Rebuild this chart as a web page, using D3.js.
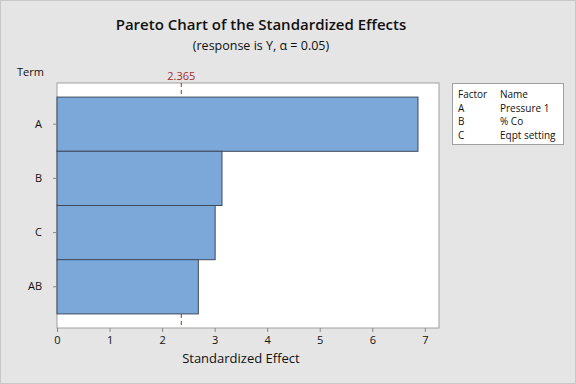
<!DOCTYPE html>
<html>
<head>
<meta charset="utf-8">
<script src="https://cdn.jsdelivr.net/npm/d3@7"></script>
<style>
  body { margin: 0; background: #e5e5e5; }
  svg { display: block; font-family: 'Open Sans', 'Noto Sans', sans-serif; }
</style>
</head>
<body>
<div id="chart"></div>
<script>
// Effects, sorted as in the chart
const terms = ['A', 'B', 'C', 'AB']
const effects = [6.87, 3.14, 3.01, 2.69]
const critical = 2.365
const xTicks = [0, 1, 2, 3, 4, 5, 6, 7]
const factors = ['A', 'B', 'C']
const factorNames = ['Pressure 1', '% Co', 'Eqpt setting']

const W = 576
const H = 384
const plot = { left: 57, right: 439, top: 83, bottom: 328 }

const svg = d3.select('#chart').append('svg')
  .attr('width', W)
  .attr('height', H)

// background frame
svg.append('rect')
  .attr('x', 0.5).attr('y', 0.5)
  .attr('width', W - 1).attr('height', H - 1)
  .attr('fill', '#e5e5e5')
  .attr('stroke', '#c8c8c8')

// titles
svg.append('text')
  .attr('x', 261).attr('y', 30)
  .attr('text-anchor', 'middle')
  .attr('font-size', 15).attr('font-weight', 600)
  .attr('fill', '#111')
  .text('Pareto Chart of the Standardized Effects')
svg.append('text')
  .attr('x', 261).attr('y', 50)
  .attr('text-anchor', 'middle')
  .attr('font-size', 12.5)
  .attr('fill', '#111')
  .text('(response is Y, α = 0.05)')

// scales
const x = d3.scaleLinear().domain([0, 7.27]).range([plot.left, plot.right])
const y = d3.scaleBand().domain(terms).range([plot.top, plot.bottom])
  .paddingInner(0).paddingOuter(0.26)

// plot area
svg.append('rect')
  .attr('x', plot.left).attr('y', plot.top)
  .attr('width', plot.right - plot.left).attr('height', plot.bottom - plot.top)
  .attr('fill', '#fff')
  .attr('stroke', '#a0a0a0')

// reference line (behind the bars)
svg.append('line')
  .attr('x1', x(critical)).attr('x2', x(critical))
  .attr('y1', plot.top).attr('y2', plot.bottom)
  .attr('stroke', '#a52a2a')
  .attr('stroke-width', 1)
  .attr('stroke-dasharray', '4,3')
svg.append('text')
  .attr('x', x(critical)).attr('y', 80)
  .attr('text-anchor', 'middle')
  .attr('font-size', 11)
  .attr('fill', '#a52a2a')
  .text(critical.toFixed(3))

// bars
svg.append('g')
  .selectAll('rect')
  .data(terms)
  .enter().append('rect')
  .attr('x', x(0))
  .attr('y', d => y(d))
  .attr('width', (d, i) => x(effects[i]) - x(0))
  .attr('height', y.bandwidth())
  .attr('fill', '#7ba7d9')
  .attr('stroke', '#3e4b5e')
  .attr('stroke-width', 1)

// x axis
const xAxis = svg.append('g')
  .attr('transform', `translate(0,${plot.bottom})`)
  .call(d3.axisBottom(x).tickValues(xTicks).tickSize(4).tickSizeOuter(0))
xAxis.select('.domain').remove()
xAxis.selectAll('line').attr('stroke', '#888')
xAxis.selectAll('text').attr('font-size', 11).attr('fill', '#111')
  .attr('font-family', "'Open Sans', 'Noto Sans', sans-serif").attr('dy', '0.85em')

svg.append('text')
  .attr('x', x(3.5)).attr('y', 363)
  .attr('text-anchor', 'middle')
  .attr('font-size', 13)
  .attr('fill', '#111')
  .text('Standardized Effect')

// y axis
const yAxis = svg.append('g')
  .attr('transform', `translate(${plot.left},0)`)
  .call(d3.axisLeft(y).tickSize(4).tickSizeOuter(0).tickPadding(11))
yAxis.select('.domain').remove()
yAxis.selectAll('line').attr('stroke', '#888')
yAxis.selectAll('text').attr('font-size', 11).attr('fill', '#111')
  .attr('font-family', "'Open Sans', 'Noto Sans', sans-serif")

svg.append('text')
  .attr('x', 17).attr('y', 76)
  .attr('font-size', 11)
  .attr('fill', '#111')
  .text('Term')

// legend
const legend = svg.append('g').attr('transform', 'translate(452,83)')
legend.append('rect')
  .attr('x', 0.5).attr('y', 0.5)
  .attr('width', 111).attr('height', 61)
  .attr('fill', '#fff')
  .attr('stroke', '#a0a0a0')
legend.append('text').attr('x', 6).attr('y', 15).attr('font-size', 10).attr('fill', '#111').text('Factor')
legend.append('text').attr('x', 48).attr('y', 15).attr('font-size', 10).attr('fill', '#111').text('Name')
factors.forEach((f, i) => {
  legend.append('text').attr('x', 6).attr('y', 28.5 + i * 13.5).attr('font-size', 10).attr('fill', '#111').text(f)
  legend.append('text').attr('x', 48).attr('y', 28.5 + i * 13.5).attr('font-size', 10).attr('fill', '#111').text(factorNames[i])
})
</script>
</body>
</html>
